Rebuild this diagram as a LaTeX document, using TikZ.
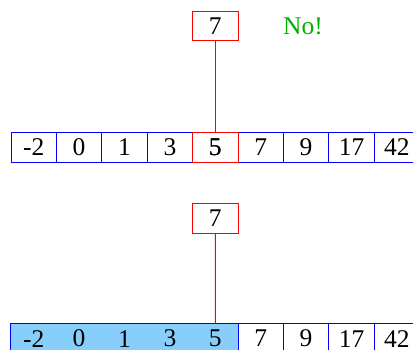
\documentclass[tikz,border=0pt]{standalone}
\usepackage{fontspec}
\setmainfont{Liberation Serif}
\usetikzlibrary{positioning, fit}
\definecolor{lightsky}{RGB}{135,206,250}

\begin{document}
\begin{tikzpicture}[
    x=1pt, y=-1pt,
    font=\fontsize{25.5}{28}\selectfont,
    cell/.style={draw=blue, line width=1pt, minimum width=45.4pt, minimum height=29.4pt, inner sep=0pt},
    hit/.style={cell, draw=red},
    key/.style={draw=red, line width=1pt, minimum width=45.4pt, minimum height=29.4pt, inner sep=0pt},
    done/.style={fill=lightsky, minimum width=45.4pt, minimum height=29.4pt, inner sep=0pt},
    probe/.style={red, line width=1pt},
    note/.style={text=green!70!black}
]
\useasboundingbox (0,0) rectangle (413,350);

% first step: compare with the middle element
\foreach \v [count=\i] in {-2,0,1,3,5,7,9,17,42}
  \node[cell] (t\i) at ({33.7+45.4*(\i-1)},147.5) {\v};
\node[hit] (t5) at (215.3,147.5) {5};
\node[key] (keyA) at (215.3,26) {7};
\node[note] (no) at (303,26) {No!};
\draw[probe] (keyA.south) -- (t5.north);

% second step: left part discarded
\foreach \v [count=\i] in {-2,0,1,3,5}
  \node[done] (b\i) at ({33.7+45.4*(\i-1)},338.6) {\v};
\foreach \v [count=\i from 6] in {7,9,17,42}
  \node[cell] (b\i) at ({33.7+45.4*(\i-1)},338.6) {\v};
\node[draw=blue, line width=1pt, inner sep=0pt, fit=(b1)(b5)] (left) {};
\node[key] (keyB) at (215.3,218.5) {7};
\draw[probe] (keyB.south) -- (b5.north);

\end{tikzpicture}
\end{document}
